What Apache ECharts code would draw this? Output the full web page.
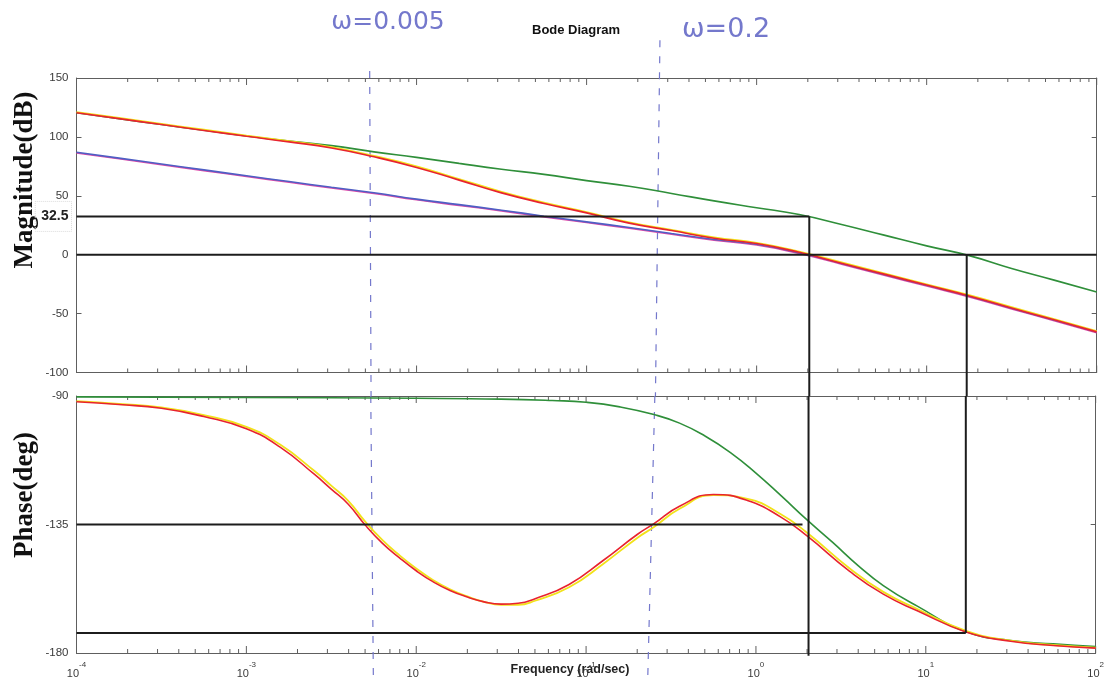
<!DOCTYPE html>
<html>
<head>
<meta charset="utf-8">
<script src="https://cdn.jsdelivr.net/npm/echarts@6/dist/echarts.min.js"></script>
<style>html,body{margin:0;padding:0;background:#fff;}#c{width:1107px;height:679px;}</style>
</head>
<body>
<div id="c"></div>
<script>
// ---------- data ----------
// magnitude samples (rad/sec)
const FREQ = [0.0001, 0.000178, 0.000316, 0.000562, 0.001, 0.00178, 0.00316, 0.00562,
  0.01, 0.0178, 0.0316, 0.0562, 0.1, 0.178, 0.316, 0.562, 1, 1.78, 3.16, 5.62,
  10, 17.8, 31.6, 56.2, 100];

const MAG_RED = [120.5, 115.5, 110.5, 105.5, 100.5, 95.8, 90.6, 83.1, 74.1, 63.3, 52.5, 43.5,
  35.5, 26.8, 20.5, 14.0, 9.5, 2.0, -7.2, -16.5, -25.8, -35.0, -45.2, -55.3, -65.5];
const MAG_YELLOW = [121.1, 116.1, 111.1, 106.1, 101.1, 96.4, 91.3, 83.9, 75.0, 64.2, 53.4, 44.2,
  36.2, 27.5, 21.1, 14.6, 10.1, 2.7, -6.5, -15.8, -25.1, -34.3, -44.5, -54.6, -64.8];
const MAG_GREEN = [120.5, 115.5, 110.5, 105.6, 100.8, 96.4, 92.6, 87.3, 82.6, 77.5, 72.6, 68.2,
  62.9, 58.1, 52.0, 45.7, 39.9, 34.1, 25.7, 16.6, 7.5, -0.8, -11.7, -21.6, -31.6];
const MAG_BLUE = [87.0, 82.0, 77.0, 72.0, 67.0, 62.1, 57.2, 52.6, 47.2, 42.5, 37.8, 32.7,
  27.9, 23.1, 18.0, 12.9, 8.8, 1.6, -7.4, -16.8, -26.0, -35.2, -45.4, -55.5, -65.7];
const MAG_MAGENTA = [86.4, 81.4, 76.4, 71.4, 66.4, 61.5, 56.6, 52.0, 46.6, 41.9, 37.2, 32.1,
  27.3, 22.5, 17.4, 12.3, 8.2, 1.0, -8.0, -17.4, -26.6, -35.8, -46.0, -56.1, -66.3];

// phase samples of the red / yellow curves (rad/sec)
const FREQ_PH = [0.0001, 0.000178, 0.000316, 0.000562, 0.001, 0.00158, 0.00251, 0.00316,
  0.00398, 0.00501, 0.00631, 0.00794, 0.01, 0.0126, 0.0158, 0.02, 0.0251, 0.0316,
  0.0398, 0.0501, 0.0794, 0.126, 0.2, 0.251, 0.355, 0.562, 0.891, 1.41, 2.0,
  3.55, 5.62, 8.91, 17.4, 31.6, 56.2, 100];
const PHASE_RED = [-92.0, -93.0, -94.3, -97.2, -101.5, -107.9, -117.4, -122.6,
  -127.9, -135.2, -141.5, -146.6, -151.2, -155.1, -158.1, -160.4, -162.1, -162.9,
  -162.6, -161.0, -156.0, -147.6, -138.5, -134.7, -128.6, -124.5, -126.6, -132.5, -139.0,
  -151.3, -159.4, -165.2, -172.7, -175.9, -177.4, -178.3];
const PHASE_YELLOW = [-91.8, -92.8, -94.0, -96.7, -100.8, -107.0, -116.2, -121.4,
  -126.7, -134.0, -140.4, -145.7, -150.4, -154.5, -157.7, -160.2, -162.1, -163.1,
  -163.1, -161.7, -157.0, -148.8, -139.7, -135.9, -129.5, -124.7, -126.0, -131.5, -137.9,
  -150.3, -158.6, -164.6, -172.3, -175.7, -177.2, -178.1];

// phase samples of the green curve (rad/sec)
const FREQ_PH_G = [0.0001, 0.001, 0.01, 0.0316, 0.0631, 0.1, 0.158, 0.251, 0.355, 0.501,
  0.708, 1, 1.41, 2.0, 2.82, 3.98, 5.62, 8.91, 17.4, 31.6, 56.2, 100];
const PHASE_GREEN = [-90.3, -90.5, -90.8, -91.1, -91.6, -92.2, -93.8, -96.5, -99.5, -104.0,
  -109.8, -117.0, -125.0, -133.4, -141.2, -149.3, -156.4, -163.6, -172.6, -175.6, -176.8, -177.7];

// reference (black) lines
const W_CROSS1 = 2.04;      // gain crossover of red/blue
const W_CROSS2 = 17.2;      // gain crossover of green
const W_PM_END = 1.88;
const MAG_REF = 32.5;
const PHASE_REF1 = -135;
const PHASE_REF2 = -173;

// hand-drawn annotations
const ANNOT_TEXT = ['ω=0.005', 'ω=0.2'];
const ANNOT_W1 = [0.0053, 0.0054, 0.0054, 0.0056];
const ANNOT_W2 = [0.27, 0.254, 0.254, 0.23];

// axes
const MAG_MIN = -100, MAG_MAX = 150, MAG_STEP = 50;
const PH_MIN = -180, PH_MAX = -90, PH_STEP = 45;
const W_MIN = 0.0001, W_MAX = 100;
const DECADES = [-4, -3, -2, -1, 0, 1];
const MULTS = [1, 2, 3, 4, 5, 6, 7, 8, 9];

// ---------- build ----------
const pairs = (xs, ys) => xs.map((f, i) => [f, ys[i]]);
const TICKS = [];
DECADES.forEach(d => MULTS.forEach(m => TICKS.push([m * Math.pow(10, d), m === 1 ? 1 : 0])));
TICKS.push([W_MAX, 1]);

const FRAME = '#5e5e5e';
const TXT = '#3a3a3a';
const SANS = '"Liberation Sans", Arial, sans-serif';

const G = [
  {left: 76.5, top: 78, width: 1020.2, height: 294.5},
  {left: 76.5, top: 396, width: 1020.2, height: 258}
];

function xAx(grid, pos, labels) {
  const a = {
    type: 'log', logBase: 10, min: W_MIN, max: W_MAX, gridIndex: grid, position: pos,
    splitNumber: 6,
    axisLine: {show: true, onZero: false, lineStyle: {color: FRAME, width: 1}},
    axisTick: {show: false},
    axisLabel: {show: false},
    splitLine: {show: false}
  };
  if (labels) {
    a.axisLabel = {
      show: true, margin: 8,
      formatter: v => '{b|10}{s|' + Math.round(Math.log10(v)) + '}',
      rich: {
        b: {fontSize: 11, color: TXT, fontFamily: SANS, lineHeight: 18, verticalAlign: 'bottom'},
        s: {fontSize: 8, color: TXT, fontFamily: SANS, lineHeight: 18, verticalAlign: 'top'}
      }
    };
  }
  return a;
}
function yAx(grid, pos, mn, mx, step, labels) {
  return {
    type: 'value', gridIndex: grid, position: pos, min: mn, max: mx, interval: step,
    axisLine: {show: true, onZero: false, lineStyle: {color: FRAME, width: 1}},
    axisTick: {show: true, inside: true, length: 5, lineStyle: {color: FRAME}},
    axisLabel: {show: labels, color: TXT, fontSize: 11.5, fontFamily: SANS, margin: 8},
    splitLine: {show: false}
  };
}
function curve(xi, yi, xs, ys, color, w, z) {
  return {type: 'line', xAxisIndex: xi, yAxisIndex: yi, data: pairs(xs, ys), smooth: 0.5,
    showSymbol: false, symbol: 'none', silent: true, z: z,
    lineStyle: {color: color, width: w}};
}
function seg(xi, yi, data, color, w, z, type) {
  return {type: 'line', xAxisIndex: xi, yAxisIndex: yi, data: data, showSymbol: false, symbol: 'none',
    silent: true, clip: false, z: z, lineStyle: {color: color, width: w, type: type || 'solid'}};
}
function tickSeries(xi, yi, ymin, ymax) {
  return {
    type: 'custom', xAxisIndex: xi, yAxisIndex: yi, data: TICKS, silent: true, clip: false, z: 1,
    renderItem: (params, api) => {
      const w = api.value(0), major = api.value(1);
      const t = api.coord([w, ymax]), b = api.coord([w, ymin]);
      const L = major ? 7 : 4;
      const st = {stroke: FRAME, lineWidth: 1};
      return {type: 'group', children: [
        {type: 'line', shape: {x1: t[0], y1: t[1], x2: t[0], y2: t[1] + L}, style: st},
        {type: 'line', shape: {x1: b[0], y1: b[1], x2: b[0], y2: b[1] - L}, style: st}
      ]};
    }
  };
}

const BLACK = '#1c1c1c';
const ANN = '#7478cc';
const C_RED = '#e8232f', C_YEL = '#f2e21a', C_GRN = '#2f8f3a', C_BLU = '#4f5fc4', C_MAG = '#e04aa8';

const option = {
  backgroundColor: '#ffffff',
  animation: false,
  title: {text: 'Bode Diagram', left: 527, top: 19,
    textStyle: {fontSize: 13, fontWeight: 'bold', color: '#111', fontFamily: SANS}},
  grid: G,
  xAxis: [xAx(0, 'bottom', false), xAx(0, 'top', false), xAx(1, 'bottom', true), xAx(1, 'top', false)],
  yAxis: [
    yAx(0, 'left', MAG_MIN, MAG_MAX, MAG_STEP, true),
    yAx(0, 'right', MAG_MIN, MAG_MAX, MAG_STEP, false),
    yAx(1, 'left', PH_MIN, PH_MAX, PH_STEP, true),
    yAx(1, 'right', PH_MIN, PH_MAX, PH_STEP, false)
  ],
  graphic: [
    {type: 'text', x: 25, y: 180, rotation: Math.PI / 2,
      style: {text: 'Magnitude(dB)', font: 'bold 27px "Liberation Serif", serif', fill: '#111',
        textAlign: 'center', textVerticalAlign: 'middle'}},
    {type: 'text', x: 25, y: 495, rotation: Math.PI / 2,
      style: {text: 'Phase(deg)', font: 'bold 27px "Liberation Serif", serif', fill: '#111',
        textAlign: 'center', textVerticalAlign: 'middle'}},
    {type: 'text', x: 570, y: 670,
      style: {text: 'Frequency (rad/sec)', font: 'bold 12.5px "Liberation Sans", Arial, sans-serif', fill: '#222',
        textAlign: 'center', textVerticalAlign: 'middle'}},
    {type: 'text', x: 388, y: 22,
      style: {text: ANNOT_TEXT[0], font: '25px "DejaVu Sans", sans-serif', fill: ANN,
        textAlign: 'center', textVerticalAlign: 'middle'}},
    {type: 'text', x: 726, y: 30,
      style: {text: ANNOT_TEXT[1], font: '27px "DejaVu Sans", sans-serif', fill: ANN,
        textAlign: 'center', textVerticalAlign: 'middle'}}
  ],
  series: [
    tickSeries(0, 0, MAG_MIN, MAG_MAX),
    tickSeries(2, 2, PH_MIN, PH_MAX),

    // hand-drawn dashed markers
    seg(0, 0, [[ANNOT_W1[0], 156], [ANNOT_W1[1], -120]], ANN, 1.2, 2, [7, 9]),
    seg(2, 2, [[ANNOT_W1[2], -90], [ANNOT_W1[3], -192]], ANN, 1.2, 2, [7, 9]),
    seg(0, 0, [[ANNOT_W2[0], 182], [ANNOT_W2[1], -120]], ANN, 1.2, 2, [7, 9]),
    seg(2, 2, [[ANNOT_W2[2], -90], [ANNOT_W2[3], -192]], ANN, 1.2, 2, [7, 9]),

    // magnitude curves
    curve(0, 0, FREQ, MAG_MAGENTA, C_MAG, 1.6, 3),
    curve(0, 0, FREQ, MAG_BLUE, C_BLU, 1.6, 4),
    curve(0, 0, FREQ, MAG_GREEN, C_GRN, 1.6, 5),
    curve(0, 0, FREQ, MAG_YELLOW, C_YEL, 1.8, 6),
    curve(0, 0, FREQ, MAG_RED, C_RED, 1.6, 7),

    // phase curves
    curve(2, 2, FREQ_PH_G, PHASE_GREEN, C_GRN, 1.6, 5),
    curve(2, 2, FREQ_PH, PHASE_YELLOW, C_YEL, 1.8, 6),
    curve(2, 2, FREQ_PH, PHASE_RED, C_RED, 1.6, 7),

    // black reference lines, magnitude
    seg(0, 0, [[W_MIN, 0], [W_MAX, 0]], BLACK, 2, 8),
    {
      type: 'line', xAxisIndex: 0, yAxisIndex: 0, silent: true, clip: false, z: 8,
      showSymbol: true, symbol: 'circle', symbolSize: 0,
      lineStyle: {color: BLACK, width: 2},
      data: [
        {value: [W_MIN, MAG_REF], label: {show: true, position: 'left', distance: 5, formatter: '32.5',
          fontSize: 14, fontWeight: 'bold', color: '#222', fontFamily: SANS,
          borderColor: '#dadada', borderWidth: 1, borderType: 'dotted', padding: [8, 3, 8, 6]}},
        [W_CROSS1, MAG_REF]
      ]
    },
    seg(0, 0, [[W_CROSS1, MAG_REF], [W_CROSS1, -120]], BLACK, 2, 8),
    seg(0, 0, [[W_CROSS2, 0], [W_CROSS2, -120]], BLACK, 2, 8),

    // black reference lines, phase
    seg(2, 2, [[W_MIN, PHASE_REF1], [W_PM_END, PHASE_REF1]], BLACK, 2, 8),
    seg(2, 2, [[W_MIN, PHASE_REF2], [W_CROSS2, PHASE_REF2]], BLACK, 2, 8),
    seg(2, 2, [[W_CROSS1, -90], [W_CROSS1, -181]], BLACK, 2, 8),
    seg(2, 2, [[W_CROSS2, -90], [W_CROSS2, PHASE_REF2]], BLACK, 2, 8)
  ]
};

const chart = echarts.init(document.getElementById('c'), null, {renderer: 'canvas'});
chart.setOption(option);
</script>
</body>
</html>
